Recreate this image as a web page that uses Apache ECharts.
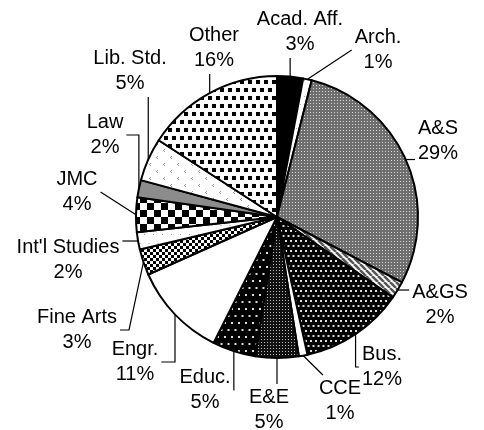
<!DOCTYPE html>
<html>
<head>
<meta charset="utf-8">
<script src="https://cdn.jsdelivr.net/npm/echarts@6/dist/echarts.min.js"></script>
<style>
  html, body { margin: 0; padding: 0; background: #fff; }
  #chart { width: 484px; height: 430px; }
</style>
</head>
<body>
<div id="chart"></div>
<script>
// units, clockwise from 12 o'clock
const units = ['Acad. Aff.', 'Arch.', 'A&S', 'A&GS', 'Bus.', 'CCE', 'E&E', 'Educ.',
  'Engr.', 'Fine Arts', "Int'l Studies", 'JMC', 'Law', 'Lib. Std.', 'Other'];
const shares = [3, 1, 29, 2, 12, 1, 5, 5, 11, 3, 2, 4, 2, 5, 16];

// where each label sits (centre of the text block) and which side its leader line joins
const labelSpots = [
  [300, 32, 'b', 'line'], [378, 50, 'l', 'line'], [438, 141, 'l', 'line'],
  [440, 305, 'l', 'diag'], [382, 367, 'l', 'elbow'], [340, 401, 't', 'line'],
  [269, 410, 't', 'line'], [205, 390, 'r', 'elbow'], [135, 362, 'r', 'elbow'],
  [77, 330, 'r', 'diag'], [68, 260, 'r', 'elbow'], [77, 192, 'r', 'line'],
  [105, 135, 'r', 'elbow'], [130, 71, 'b', 'line'], [214, 48, 'b', 'line']
];

// little tiles used as fill patterns (one per slice)
function tile(w, h, draw) {
  const c = document.createElement('canvas');
  c.width = w; c.height = h;
  const g = c.getContext('2d');
  draw(g, w, h);
  return { image: c, repeat: 'repeat' };
}
function solid(col) { return tile(2, 2, (g) => { g.fillStyle = col; g.fillRect(0, 0, 2, 2); }); }
function dots(bg, fg, step, size, stagger) {
  return tile(step * 2, step * 2, (g, w, h) => {
    g.fillStyle = bg; g.fillRect(0, 0, w, h);
    g.fillStyle = fg;
    for (let r = 0; r < 2; r++) {
      for (let k = 0; k < 2; k++) {
        const off = stagger && r % 2 ? step / 2 : 0;
        g.fillRect((k * step + off) % w, r * step, size, size);
      }
    }
  });
}
function checker(a, b, s) {
  return tile(s * 2, s * 2, (g) => {
    g.fillStyle = a; g.fillRect(0, 0, s * 2, s * 2);
    g.fillStyle = b; g.fillRect(0, 0, s, s); g.fillRect(s, s, s, s);
  });
}

const fills = [
  solid('#000'),                                   // Acad. Aff.
  dots('#fff', '#aaa', 8, 1, true),                // Arch.
  tile(3, 3, (g) => { g.fillStyle = '#6e6e6e'; g.fillRect(0, 0, 3, 3); g.fillStyle = '#d8d8d8'; g.fillRect(1, 1, 1, 1); }), // A&S
  tile(6, 6, (g) => {                               // A&GS stripes
    g.fillStyle = '#fff'; g.fillRect(0, 0, 6, 6);
    g.strokeStyle = '#555'; g.lineWidth = 2.5;
    for (let i = -6; i <= 12; i += 6) { g.beginPath(); g.moveTo(i, 0); g.lineTo(i + 6, 6); g.stroke(); }
  }),
  dots('#000', '#ddd', 5, 2, true),                // Bus.
  solid('#fff'),                                   // CCE
  dots('#111', '#bbb', 3, 1, false),               // E&E
  dots('#000', '#ddd', 7, 2, true),                // Educ.
  solid('#fff'),                                   // Engr.
  checker('#fff', '#000', 3),                      // Fine Arts
  dots('#fff', '#999', 9, 1, true),                // Int'l Studies
  checker('#fff', '#000', 7),                      // JMC
  solid('#8c8c8c'),                                // Law
  tile(14, 14, (g) => {                             // Lib. Std.
    g.fillStyle = '#fff'; g.fillRect(0, 0, 14, 14);
    g.fillStyle = '#999';
    g.fillRect(3, 2, 1, 1); g.fillRect(2, 3, 1, 1); g.fillRect(3, 4, 1, 1);
    g.fillRect(10, 9, 1, 1); g.fillRect(9, 10, 1, 1); g.fillRect(10, 11, 1, 1);
  }),
  dots('#fff', '#000', 8, 4, true)                 // Other
];

function clamp(v, lo, hi) { return Math.max(lo, Math.min(hi, v)); }

const chart = echarts.init(document.getElementById('chart'));
chart.setOption({
  animation: false,
  series: [{
    type: 'pie',
    center: [277, 217],
    radius: 141,
    startAngle: 90,
    clockwise: true,
    avoidLabelOverlap: false,
    itemStyle: { borderColor: '#000', borderWidth: 2 },
    label: {
      show: true,
      position: 'outside',
      color: '#000',
      fontFamily: 'Liberation Sans, Arial, sans-serif',
      fontSize: 20,
      lineHeight: 25,
      align: 'center',
      formatter: (p) => p.name + '\n' + p.value + '%'
    },
    labelLine: {
      show: true,
      length: 10,
      length2: 8,
      lineStyle: { color: '#000', width: 1.2 }
    },
    labelLayout: (p) => {
      const s = labelSpots[p.dataIndex];
      const w = p.labelRect.width, h = p.labelRect.height;
      const x0 = s[0] - w / 2, y0 = s[1] - h / 2;
      const a = p.labelLinePoints ? p.labelLinePoints[0] : [s[0], s[1]];
      let e;
      if (s[2] === 'l') e = [x0 - 3, a[1] > y0 + 4 && a[1] < y0 + h - 4 ? a[1] : s[1]];
      else if (s[2] === 'r') e = [x0 + w + 3, a[1] > y0 + 4 && a[1] < y0 + h - 4 ? a[1] : s[1]];
      else if (s[2] === 't') e = [clamp(a[0], x0 + 4, x0 + w - 4), y0 - 1];
      else e = [clamp(a[0], x0 + 4, x0 + w - 4), y0 + h + 1];
      let pts;
      if (s[3] === 'elbow') pts = [a, [a[0], e[1]], e];
      else if (s[3] === 'diag') pts = [a, [e[0] + (s[2] === 'l' ? -9 : 9), e[1]], e];
      else pts = [a, e];
      return { x: s[0], y: s[1], align: 'center', verticalAlign: 'middle', labelLinePoints: pts };
    },
    emphasis: { disabled: true },
    data: units.map((u, i) => ({ name: u, value: shares[i], itemStyle: { color: fills[i] } }))
  }]
});
</script>
</body>
</html>
